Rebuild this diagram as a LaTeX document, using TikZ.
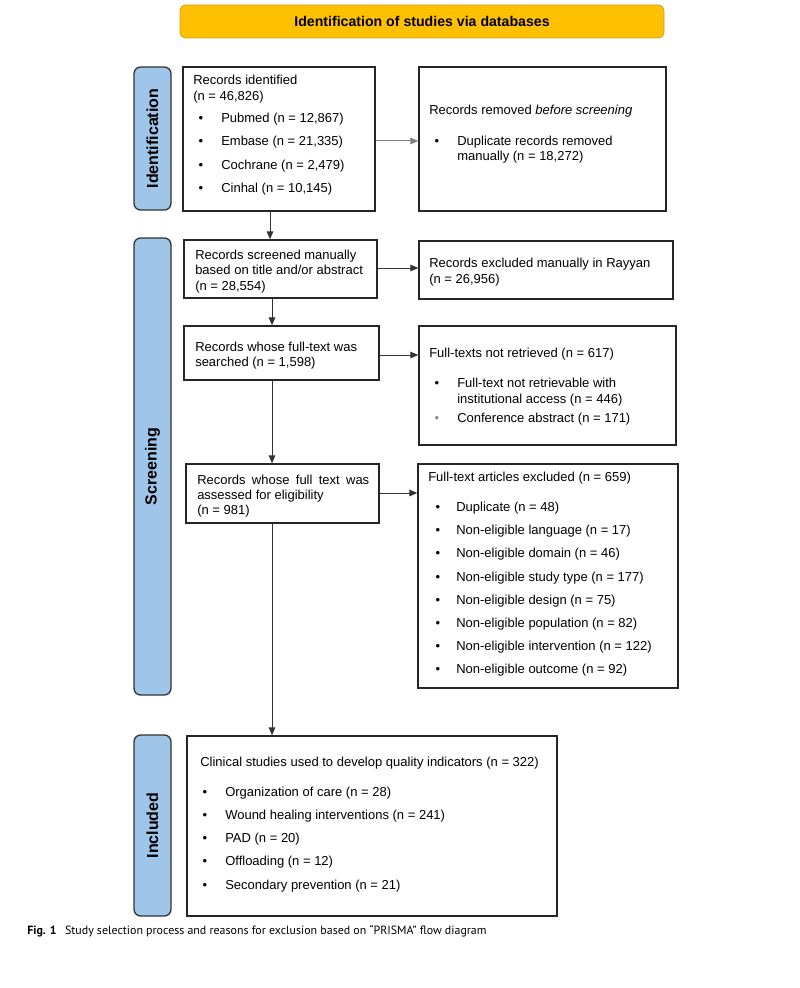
\documentclass[tikz,border=0pt]{standalone}
\usepackage{fontspec}
\setmainfont{Liberation Sans}
\newfontfamily\capfont{PT Sans}
\usetikzlibrary{fit,arrows.meta}
\definecolor{bannerfill}{HTML}{FFC000}
\definecolor{bannerdraw}{HTML}{C9A227}
\definecolor{sideblue}{HTML}{9FC5E8}
\begin{document}
\begin{tikzpicture}[x=0.75pt,y=-0.75pt,
  box/.style={draw=black!85, line width=1.1pt, inner sep=0pt},
  side/.style={draw=black!80, line width=1pt, fill=sideblue, rounded corners=5pt, inner sep=0pt},
  txt/.style={anchor=base west, inner sep=0pt, font=\fontsize{9.75}{11.7}\selectfont},
  bul/.style={anchor=base, inner sep=0pt, font=\fontsize{9.75}{11.7}\selectfont},
  lab/.style={rotate=90, font=\fontsize{12}{14}\selectfont\bfseries, inner sep=0pt},
  arr/.style={draw=black!80, line width=0.75pt, -{Triangle[length=6pt,width=5pt]}},
]
\useasboundingbox[fill=white] (0,0) rectangle (799,988);

% banner
\node[draw=bannerdraw, line width=0.6pt, fill=bannerfill, rounded corners=4pt, inner sep=0pt, fit={(180,5)(664,38)}] (banner) {};
\node[font=\fontsize{10.6}{12}\selectfont\bfseries, inner sep=0pt] (bannertxt) at (banner.center) {Identification of studies via databases};

% side labels
\node[side, fit={(134,67)(171,210)}] (sideid) {};
\node[lab] (sideidtxt) at (sideid.center) {Identification};
\node[side, fit={(134,238)(171,695)}] (sidescr) {};
\node[lab] (sidescrtxt) at (sidescr.center) {Screening};
\node[side, fit={(134,735)(171,916)}] (sideinc) {};
\node[lab] (sideinctxt) at (sideinc.center) {Included};

% boxes
\node[box, fit={(183,67)(375,211)}] (id) {};
\node[box, fit={(419,67)(666,211)}] (rem) {};
\node[box, fit={(184,240)(377,298)}] (scr) {};
\node[box, fit={(419,241)(673,299)}] (exc) {};
\node[box, fit={(184,326)(379,380)}] (srch) {};
\node[box, fit={(419,326)(676,445)}] (nret) {};
\node[box, fit={(186,464)(379,523)}] (elig) {};
\node[box, fit={(418,464)(678,688)}] (ftex) {};
\node[box, fit={(187,736)(557,916)}] (incl) {};

% identified box text
\node[txt] (t1) at (193,84.5) {Records identified};
\node[txt] (t2) at (193,101) {(n = 46,826)};
\foreach \yy/\tt [count=\i] in {122.5/{Pubmed (n = 12,867)}, 145.5/{Embase (n = 21,335)}, 169.5/{Cochrane (n = 2,479)}, 192.5/{Cinhal (n = 10,145)}}{
  \node[bul] (ib\i) at (201,\yy) {•};
  \node[txt] (it\i) at (221,\yy) {\tt};
}

% removed box text
\node[txt] (t3) at (429,114.5) {Records removed \textit{before screening}};
\node[bul] (rb1) at (437,145.5) {•};
\node[txt] (t4) at (457,145.5) {Duplicate records removed};
\node[txt] (t5) at (457,161) {manually (n = 18,272)};

% screened
\node[txt] (t6) at (195,259.5) {Records screened manually};
\node[txt] (t7) at (195,274.5) {based on title and/or abstract};
\node[txt] (t8) at (195,290) {(n = 28,554)};

% excluded Rayyan
\node[txt] (t9) at (429,267.5) {Records excluded manually in Rayyan};
\node[txt] (t10) at (429,283) {(n = 26,956)};

% searched
\node[txt] (t11) at (195,351.5) {Records whose full-text was};
\node[txt] (t12) at (195,366.5) {searched (n = 1,598)};

% not retrieved
\node[txt] (t13) at (429,357.5) {Full-texts not retrieved (n = 617)};
\node[bul] (nb1) at (437,387.5) {•};
\node[txt] (t14) at (457,387.5) {Full-text not retrievable with};
\node[txt] (t15) at (457,403) {institutional access (n = 446)};
\node[bul, text=black!45] (nb2) at (437,422.5) {•};
\node[txt] (t16) at (457,422.5) {Conference abstract (n = 171)};

% eligibility
\node[txt] (t17) at (197,484.5) {\makebox[129pt][s]{Records whose full text was}};
\node[txt] (t18) at (197,499.5) {assessed for eligibility};
\node[txt] (t19) at (197,514.5) {(n = 981)};

% full-text excluded
\node[txt] (t20) at (428,481.5) {Full-text articles excluded (n = 659)};
\foreach \yy/\tt [count=\i] in {511.5/{Duplicate (n = 48)}, 534.5/{Non-eligible language (n = 17)}, 557.5/{Non-eligible domain (n = 46)}, 581.5/{Non-eligible study type (n = 177)}, 604.5/{Non-eligible design (n = 75)}, 627.5/{Non-eligible population (n = 82)}, 650.5/{Non-eligible intervention (n = 122)}, 673.5/{Non-eligible outcome (n = 92)}}{
  \node[bul] (fb\i) at (438,\yy) {•};
  \node[txt] (ft\i) at (456,\yy) {\tt};
}

% included
\node[txt] (t21) at (200,766.5) {Clinical studies used to develop quality indicators (n = 322)};
\foreach \yy/\tt [count=\i] in {796.5/{Organization of care (n = 28)}, 819.5/{Wound healing interventions (n = 241)}, 842.5/{PAD (n = 20)}, 865.5/{Offloading (n = 12)}, 889.5/{Secondary prevention (n = 21)}}{
  \node[bul] (cb\i) at (205,\yy) {•};
  \node[txt] (ct\i) at (225,\yy) {\tt};
}

% connectors
\coordinate (v1) at (270,0);
\coordinate (v2) at (272,0);
\coordinate (h1) at (0,141);
\coordinate (h2) at (0,268);
\coordinate (h3) at (0,355);
\coordinate (h4) at (0,493);
\draw[arr, draw=black!50] (id.east |- h1) -- (rem.west |- h1);
\draw[arr] (id.south -| v1) -- (scr.north -| v1);
\draw[arr] (scr.east |- h2) -- (exc.west |- h2);
\draw[arr] (scr.south -| v2) -- (srch.north -| v2);
\draw[arr] (srch.east |- h3) -- (nret.west |- h3);
\draw[arr] (srch.south -| v2) -- (elig.north -| v2);
\draw[arr] (elig.east |- h4) -- (ftex.west |- h4);
\draw[arr] (elig.south -| v2) -- (incl.north -| v2);

% caption
\node[anchor=base west, inner sep=0pt, font=\capfont\fontsize{8.95}{10}\selectfont] (caption) at (27,934) {\textbf{Fig. 1}\hspace{0.7em}Study selection process and reasons for exclusion based on “PRISMA” flow diagram};
\end{tikzpicture}
\end{document}
